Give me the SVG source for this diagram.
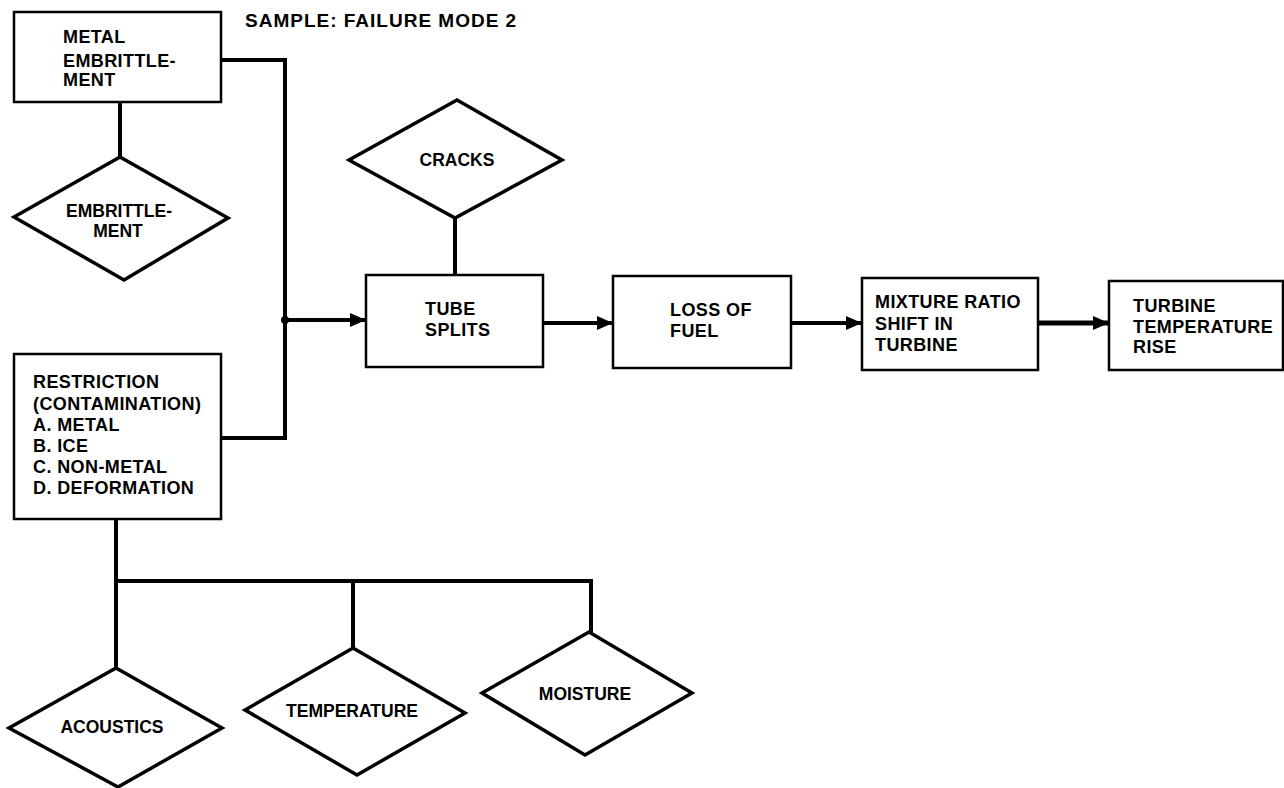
<svg xmlns="http://www.w3.org/2000/svg" width="1284" height="788" viewBox="0 0 1284 788">
<style>
.box{fill:#fff;stroke:#000;stroke-width:2.5}
.dia{fill:#fff;stroke:#000;stroke-width:3.5;stroke-linejoin:miter}
.t{font-family:"Liberation Sans",Arial,sans-serif;font-weight:bold;font-size:17.5px;fill:#000}
.bt{font-size:18px;letter-spacing:0.4px}
.c{text-anchor:middle}
.ln{fill:none;stroke:#000;stroke-width:4}
</style>
<defs>
<marker id="ah" viewBox="0 0 16 14" refX="16" refY="7" markerWidth="16" markerHeight="14" markerUnits="userSpaceOnUse" orient="auto">
<path d="M0,0 L16,7 L0,14 Z" fill="#000"/>
</marker>
</defs>
<rect width="1284" height="788" fill="#fff"/>
<text class="t" x="245" y="27" style="font-size:19px;letter-spacing:1px">SAMPLE: FAILURE MODE 2</text>

<g id="connectors">
<path class="ln" d="M221,60 H285 V438 H221"/>
<circle cx="285" cy="320" r="4" fill="#000"/>
<path class="ln" d="M285,320 H366" marker-end="url(#ah)"/>
<path class="ln" d="M120,102 V157"/>
<path class="ln" d="M455,218 V275"/>
<path class="ln" d="M543,323 H613" marker-end="url(#ah)"/>
<path class="ln" d="M791,323 H862" marker-end="url(#ah)"/>
<path class="ln" d="M1038,323 H1109" style="stroke-width:5" marker-end="url(#ah)"/>
<path class="ln" d="M116,519 V668"/>
<path class="ln" d="M116,581 H591 V632"/>
<path class="ln" d="M353,581 V648"/>
</g>

<g id="metal-embrittlement">
<rect class="box" x="14" y="12" width="207" height="90"/>
<text class="t bt" x="63" y="43">METAL</text>
<text class="t bt" x="63" y="67">EMBRITTLE-</text>
<text class="t bt" x="63" y="86">MENT</text>
</g>

<g id="embrittlement">
<polygon class="dia" points="120,157 228,218 124,280 14,217"/>
<text class="t c" x="119" y="217">EMBRITTLE-</text>
<text class="t c" x="118" y="237">MENT</text>
</g>

<g id="restriction">
<rect class="box" x="14" y="354" width="207" height="165"/>
<text class="t bt" x="33" y="388">RESTRICTION</text>
<text class="t bt" x="33" y="410">(CONTAMINATION)</text>
<text class="t bt" x="33" y="431">A. METAL</text>
<text class="t bt" x="33" y="452">B. ICE</text>
<text class="t bt" x="33" y="473">C. NON-METAL</text>
<text class="t bt" x="33" y="494">D. DEFORMATION</text>
</g>

<g id="cracks">
<polygon class="dia" points="457,100 562,160 455,218 349,160"/>
<text class="t c" x="457" y="166">CRACKS</text>
</g>

<g id="tube-splits">
<rect class="box" x="366" y="275" width="177" height="92"/>
<text class="t bt" x="425" y="315">TUBE</text>
<text class="t bt" x="425" y="336">SPLITS</text>
</g>

<g id="loss-of-fuel">
<rect class="box" x="613" y="276" width="178" height="92"/>
<text class="t bt" x="670" y="316">LOSS OF</text>
<text class="t bt" x="670" y="337">FUEL</text>
</g>

<g id="mixture-ratio">
<rect class="box" x="862" y="278" width="176" height="92"/>
<text class="t bt" x="875" y="308">MIXTURE RATIO</text>
<text class="t bt" x="875" y="330">SHIFT IN</text>
<text class="t bt" x="875" y="351">TURBINE</text>
</g>

<g id="turbine-temperature">
<rect class="box" x="1109" y="281" width="174" height="89"/>
<text class="t bt" x="1133" y="312">TURBINE</text>
<text class="t bt" x="1133" y="333">TEMPERATURE</text>
<text class="t bt" x="1133" y="353">RISE</text>
</g>

<g id="acoustics">
<polygon class="dia" points="116,668 222,728 118,787 9,728"/>
<text class="t c" x="112" y="733">ACOUSTICS</text>
</g>

<g id="temperature">
<polygon class="dia" points="353,648 465,713 357,775 245,710"/>
<text class="t c" x="352" y="717">TEMPERATURE</text>
</g>

<g id="moisture">
<polygon class="dia" points="589,632 692,693 585,755 482,693"/>
<text class="t c" x="585" y="700">MOISTURE</text>
</g>
</svg>
